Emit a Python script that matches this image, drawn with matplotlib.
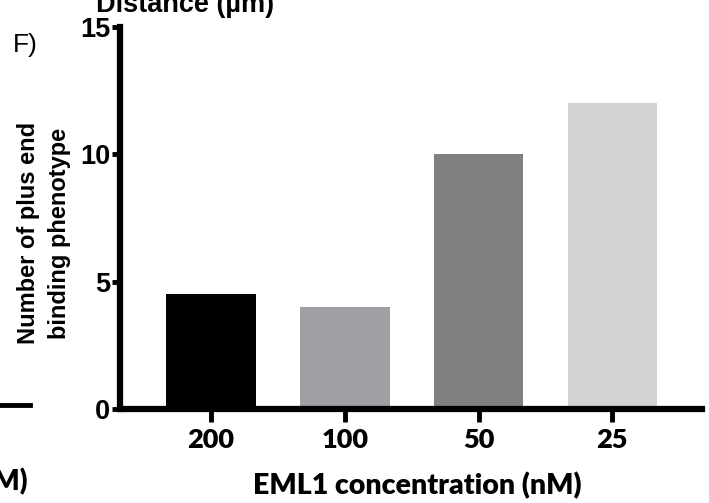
import matplotlib.pyplot as plt
import numpy as np

# data
concentrations = ['200', '100', '50', '25']
counts = [4.5, 4.0, 10.0, 12.0]
bar_colors = ['#000000', '#A0A0A4', '#808080', '#D3D3D3']
y_ticks = [0, 5, 10, 15]

W, H = 709, 503
fig = plt.figure(figsize=(W / 100, H / 100), dpi=100)
ax = fig.add_axes([120 / W, 1 - 409 / H, (702 - 120) / W, (409 - 27) / H])

x = np.arange(len(concentrations))
ax.bar(x, counts, width=0.67, color=bar_colors, linewidth=0)

ax.set_xlim(-0.68, 3.67)
ax.set_ylim(0, 15)
ax.set_yticks(y_ticks)
ax.set_xticks(x)
ax.set_xticklabels(concentrations, fontfamily='Lato', fontweight='heavy', fontsize=19.5)
for lab in ax.get_yticklabels():
    lab.set_fontfamily('Liberation Sans')
    lab.set_fontweight('bold')
    lab.set_fontsize(19.5)

for side in ['top', 'right']:
    ax.spines[side].set_visible(False)
for side in ['left', 'bottom']:
    ax.spines[side].set_linewidth(4.5)
ax.spines['left'].set_capstyle('projecting')
ax.tick_params(axis='y', length=6, width=3.5, pad=1)
ax.tick_params(axis='x', length=9, width=3.5, pad=5)

# axis titles
fig.text(417 / W, 1 - 486 / H, 'EML1 concentration (nM)', ha='center', va='center',
         fontfamily='Lato', fontweight='heavy', fontsize=20.5)
fig.text(44 / W, 1 - 233 / H, 'Number of plus end\nbinding phenotype', rotation=90,
         ha='center', va='center', fontfamily='Liberation Sans', fontweight='bold',
         fontsize=17, linespacing=1.4)

# pieces of the neighbouring panels that show at the edges
fig.text(13 / W, 1 - 45 / H, 'F)', ha='left', va='center',
         fontfamily='Liberation Sans', fontsize=19)
fig.text(185 / W, 1 - 12 / H, 'Distance (\u00b5m)', ha='center', va='baseline',
         fontfamily='Liberation Sans', fontweight='bold', fontsize=19.5)
fig.text(27 / W, 1 - 482 / H, 'M)', ha='right', va='center',
         fontfamily='Lato', fontweight='heavy', fontsize=20)
fig.add_artist(plt.Line2D([0, 30 / W], [1 - 405 / H, 1 - 405 / H],
                          transform=fig.transFigure, color='black', linewidth=3.5))

fig.savefig('out.png', dpi=100)
